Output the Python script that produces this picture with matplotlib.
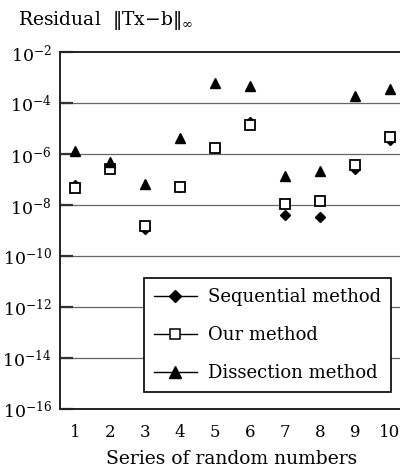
import matplotlib
matplotlib.use("Agg")
import matplotlib.pyplot as plt
from matplotlib.ticker import FixedLocator, NullLocator

series = [1, 2, 3, 4, 5, 6, 7, 8, 9, 10]
sequential = [6.0e-8, 3.5e-7, 1.15e-9, 5.2e-8, 1.7e-6, 1.8e-5, 4.1e-9, 3.5e-9, 2.6e-7, 3.6e-6]
ours = [4.8e-8, 2.5e-7, 1.5e-9, 5.2e-8, 1.7e-6, 1.4e-5, 1.07e-8, 1.5e-8, 3.7e-7, 4.5e-6]
dissection = [1.35e-6, 5.0e-7, 6.4e-8, 4.3e-6, 5.9e-4, 4.6e-4, 1.4e-7, 2.2e-7, 1.9e-4, 3.6e-4]
yticks = [1e-2, 1e-4, 1e-6, 1e-8, 1e-10, 1e-12, 1e-14, 1e-16]
ytick_labels = [r"$10^{-2}$", r"$10^{-4}$", r"$10^{-6}$", r"$10^{-8}$",
                r"$10^{-10}$", r"$10^{-12}$", r"$10^{-14}$", r"$10^{-16}$"]

plt.rcParams['font.family'] = ['DejaVu Serif']
plt.rcParams['mathtext.fontset'] = 'dejavuserif'

fig = plt.figure(figsize=(4.0, 4.73), dpi=100)
ax = fig.add_axes([0.15, 0.1353, 0.86, 0.7547])

ax.set_yscale('log')
ax.set_ylim(1e-16, 1e-2)
ax.set_xlim(0.571, 10.4)

for y in yticks[1:-1]:
    ax.axhline(y, color='#666666', lw=0.9, zorder=1)

ax.plot(series, sequential, linestyle='none', marker='D', ms=5.5, color='black', zorder=3,
        label='Sequential method')
ax.plot(series, ours, linestyle='none', marker='s', ms=6.5, mfc='white', mec='black', mew=1.3,
        zorder=4, label='Our method')
ax.plot(series, dissection, linestyle='none', marker='^', ms=7.5, color='black', zorder=5,
        label='Dissection method')

ax.yaxis.set_major_locator(FixedLocator(yticks))
ax.yaxis.set_minor_locator(NullLocator())
ax.set_yticklabels(ytick_labels, fontsize=12.5)
ax.tick_params(axis='y', direction='in', length=9, width=1.6, pad=6, color='#333333')
ax.set_xticks(series)
ax.set_xticklabels([str(s) for s in series], fontsize=12)
ax.tick_params(axis='x', length=0, pad=11)
ax.xaxis.set_minor_locator(NullLocator())

for s in ['left', 'bottom', 'top']:
    ax.spines[s].set_linewidth(1.4)
    ax.spines[s].set_color('#222222')
ax.spines['right'].set_visible(False)

ax.set_xlabel('Series of random numbers', fontsize=13.5, labelpad=6)

fig.text(0.045, 0.957, r'Residual  $\Vert$Tx$-$b$\Vert_\infty$', fontsize=13.5, va='center', ha='left')

handles = [
    plt.Line2D([], [], color='black', lw=1.0, marker='D', ms=6),
    plt.Line2D([], [], color='black', lw=1.0, marker='s', ms=7, mfc='white', mec='black', mew=1.1),
    plt.Line2D([], [], color='black', lw=1.0, marker='^', ms=8),
]
leg = ax.legend(handles, ['Sequential method', 'Our method', 'Dissection method'],
                loc='lower right', bbox_to_anchor=(0.962, 0.048), fontsize=13,
                frameon=True, fancybox=False, edgecolor='black', framealpha=1,
                handlelength=2.4, handletextpad=0.6, labelspacing=1.1, borderpad=0.55,
                borderaxespad=0)
leg.get_frame().set_linewidth(1.2)

fig.savefig('out.png', dpi=100)
